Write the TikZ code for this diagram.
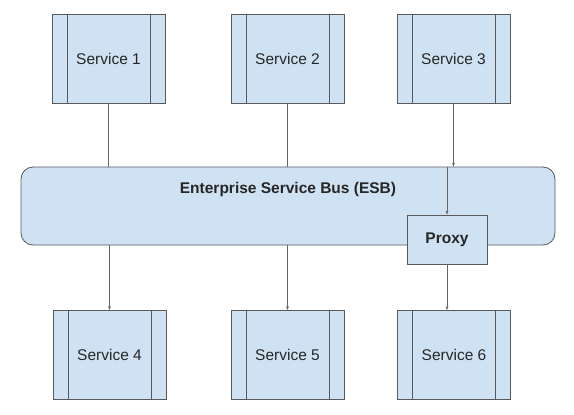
\documentclass[tikz,border=0pt]{standalone}
\usepackage{fontspec}
\setmainfont{Liberation Sans}
\usetikzlibrary{arrows.meta}
\definecolor{boxfill}{HTML}{CFE2F3}
\definecolor{boxline}{HTML}{595959}
\definecolor{wireline}{HTML}{666666}
\begin{document}
\begin{tikzpicture}[
		x=1pt, y=-1pt,
		line width=0.8pt,
		every node/.style={font=\fontsize{15.5}{18}\selectfont, text=black!85},
		service/.style={draw=boxline, fill=boxfill, minimum width=113pt, minimum height=89pt, inner sep=0pt,
			path picture={
				\draw[boxline] ([xshift=15pt]path picture bounding box.north west) -- ([xshift=15pt]path picture bounding box.south west);
				\draw[boxline] ([xshift=-15pt]path picture bounding box.north east) -- ([xshift=-15pt]path picture bounding box.south east);
			}},
		bus/.style={draw=boxline, fill=boxfill, rounded corners=12pt, minimum width=534pt, minimum height=78pt},
		bus title/.style={font=\fontsize{15.5}{18}\selectfont\bfseries},
		proxybox/.style={draw=boxline, fill=boxfill, minimum width=80pt, minimum height=49pt, font=\fontsize{15.5}{18}\selectfont\bfseries},
		wire/.style={draw=wireline},
		flow/.style={wire, -{Stealth[length=4pt, width=3pt]}}
		]
	
	\useasboundingbox (0, 0) rectangle (574, 415);
	
	% Bus
	\node[bus] (esb) at (288, 206) {};
	\node[bus title] (esbtitle) at (288, 189) {Enterprise Service Bus (ESB)};
	\node[proxybox] (proxy) at (447, 239.5) {Proxy};
	
	% Upper services
	\node[service] (s1) at (108.5, 58.5) {Service 1};
	\node[service] (s2) at (287.5, 58.5) {Service 2};
	\node[service] (s3) at (453.5, 58.5) {Service 3};
	
	% Lower services
	\node[service] (s4) at (109.5, 355) {Service 4};
	\node[service] (s5) at (287.5, 355) {Service 5};
	\node[service] (s6) at (454, 355) {Service 6};
	
	% Into the bus
	\draw[wire] (s1.south) -- (s1.south |- esb.north);
	\draw[wire] (s2.south) -- (s2.south |- esb.north);
	\draw[flow] (s3.south) -- (s3.south |- esb.north);
	\draw[flow] (proxy.north |- esb.north) -- (proxy.north);
	
	% Out of the bus
	\draw[flow] (s4.north |- esb.south) -- (s4.north);
	\draw[flow] (s5.north |- esb.south) -- (s5.north);
	\draw[flow] (proxy.south) -- (proxy.south |- s6.north);
	
\end{tikzpicture}
\end{document}
